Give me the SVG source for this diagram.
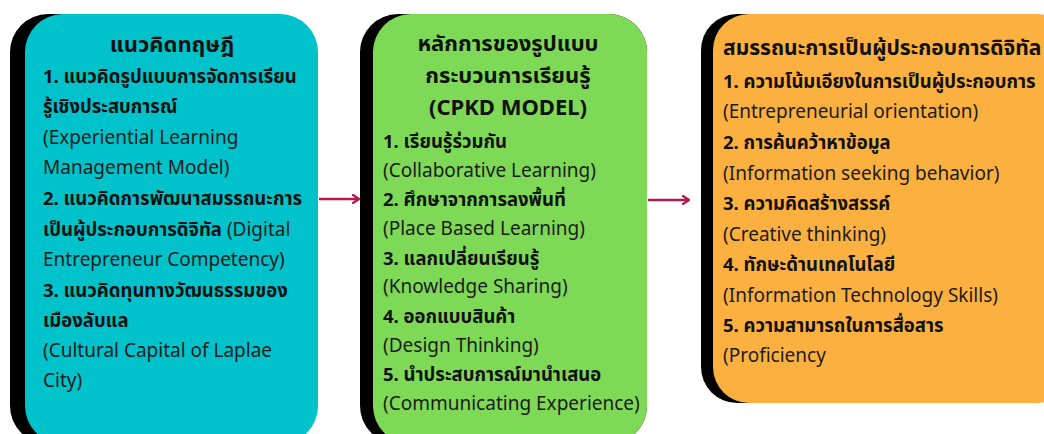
<svg xmlns="http://www.w3.org/2000/svg" width="1044" height="434" viewBox="0 0 1044 434">
<defs>
<marker id="ah" viewBox="0 0 10 10" refX="8" refY="5" markerWidth="4" markerHeight="4" markerUnits="strokeWidth" orient="auto">
<path d="M2,1 L8,5 L2,9" fill="none" stroke="#B3194B" stroke-width="2.2" stroke-linecap="round" stroke-linejoin="round"/>
</marker>
<style>
.t{font-family:"Noto Sans","Noto Sans Thai","Open Sans",sans-serif;font-size:19px;fill:#1c1c1c}
.b{font-weight:bold;fill:#111;font-size:18.5px}
.h{font-family:"Noto Sans","Noto Sans Thai","Open Sans",sans-serif;font-size:22px;font-weight:bold;fill:#111}
.h2{font-size:21px}
.sh{fill:#000}
.con{stroke:#B3194B;stroke-width:2.5;fill:none}
</style>
</defs>
<rect width="1044" height="434" fill="#fff"/>
<g id="theory">
<rect class="sh" x="10" y="14" width="293" height="430" rx="38"/>
<rect x="25" y="14" width="293" height="430" rx="38" fill="#00C2CB"/>
<text class="h" x="172" y="52" text-anchor="middle">แนวคิดทฤษฎี</text>
<text class="t b" x="43" y="83">1. แนวคิดรูปแบบการจัดการเรียน</text>
<text class="t b" x="43" y="113">รู้เชิงประสบการณ์</text>
<text class="t" x="43" y="144">(Experiential Learning</text>
<text class="t" x="43" y="174">Management Model)</text>
<text class="t b" x="43" y="205">2. แนวคิดการพัฒนาสมรรถนะการ</text>
<text class="t" x="43" y="236"><tspan class="b">เป็นผู้ประกอบการดิจิทัล</tspan> (Digital</text>
<text class="t" x="43" y="266">Entrepreneur Competency)</text>
<text class="t b" x="43" y="297">3. แนวคิดทุนทางวัฒนธรรมของ</text>
<text class="t b" x="43" y="327">เมืองลับแล</text>
<text class="t" x="43" y="357">(Cultural Capital of Laplae</text>
<text class="t" x="43" y="387">City)</text>
</g>
<g id="cpkd">
<rect class="sh" x="360" y="14" width="287" height="430" rx="38"/>
<rect x="373" y="14" width="274" height="430" rx="38" fill="#7ED957"/>
<text class="h" x="508" y="51" text-anchor="middle">หลักการของรูปแบบ</text>
<text class="h" x="508" y="83" text-anchor="middle">กระบวนการเรียนรู้</text>
<text class="h" x="508" y="115" text-anchor="middle">(CPKD MODEL)</text>
<text class="t b" x="383" y="148">1. เรียนรู้ร่วมกัน</text>
<text class="t" x="383" y="177">(Collaborative Learning)</text>
<text class="t b" x="383" y="206">2. ศึกษาจากการลงพื้นที่</text>
<text class="t" x="383" y="235">(Place Based Learning)</text>
<text class="t b" x="383" y="265">3. แลกเปลี่ยนเรียนรู้</text>
<text class="t" x="383" y="293">(Knowledge Sharing)</text>
<text class="t b" x="383" y="323">4. ออกแบบสินค้า</text>
<text class="t" x="383" y="352">(Design Thinking)</text>
<text class="t b" x="383" y="381">5. นำประสบการณ์มานำเสนอ</text>
<text class="t" x="383" y="410">(Communicating Experience)</text>
</g>
<g id="competency">
<rect class="sh" x="701" y="14" width="360" height="389" rx="36"/>
<rect x="713" y="14" width="360" height="389" rx="36" fill="#FBB040"/>
<text class="h h2" x="723" y="55">สมรรถนะการเป็นผู้ประกอบการดิจิทัล</text>
<text class="t b" x="723" y="88">1. ความโน้มเอียงในการเป็นผู้ประกอบการ</text>
<text class="t" x="723" y="118">(Entrepreneurial orientation)</text>
<text class="t b" x="723" y="149">2. การค้นคว้าหาข้อมูล</text>
<text class="t" x="723" y="180">(Information seeking behavior)</text>
<text class="t b" x="723" y="210">3. ความคิดสร้างสรรค์</text>
<text class="t" x="723" y="241">(Creative thinking)</text>
<text class="t b" x="723" y="271">4. ทักษะด้านเทคโนโลยี</text>
<text class="t" x="723" y="302">(Information Technology Skills)</text>
<text class="t b" x="723" y="332">5. ความสามารถในการสื่อสาร</text>
<text class="t" x="723" y="362">(Proficiency</text>
</g>
<g id="connectors">
<line class="con" x1="319" y1="199" x2="359" y2="199" marker-end="url(#ah)"/>
<line class="con" x1="648" y1="200" x2="689" y2="200" marker-end="url(#ah)"/>
</g>
</svg>
